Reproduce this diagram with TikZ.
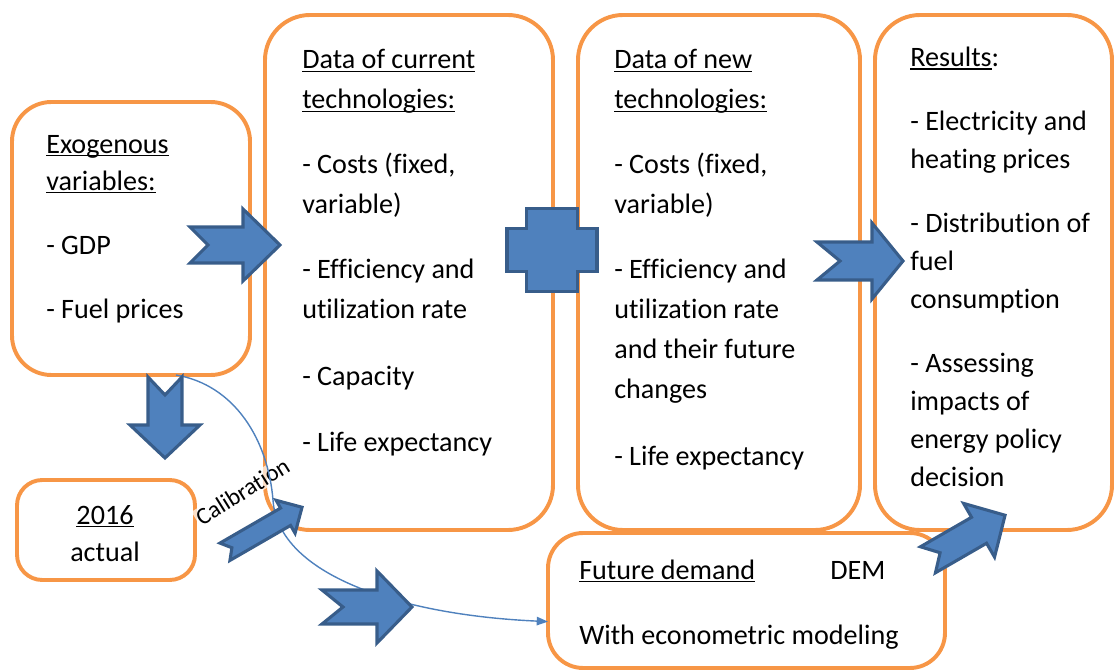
\documentclass[tikz,border=0pt]{standalone}
\usepackage{fontspec}
\setmainfont{Carlito}[Ligatures=NoCommon]
\usetikzlibrary{arrows.meta}

% underline at a fixed depth, as a word processor does
\newcommand{\ulx}[1]{\setbox0=\hbox{#1}\rlap{\rule[-2.4pt]{\wd0}{1.1pt}}\box0}

% notched block arrow: centre x, centre y, angle, length, half width, half shaft, head, notch
\newcommand{\notchedarrow}[8]{%
  \filldraw[blockarrow, shift={(#1,#2)}, rotate=#3]
    (-#4/2,-#6) -- (#4/2-#7,-#6) -- (#4/2-#7,-#5) -- (#4/2,0) -- (#4/2-#7,#5)
    -- (#4/2-#7,#6) -- (-#4/2,#6) -- (-#4/2+#8,0) -- cycle;}

\tikzset{
  box/.style={draw=boxorange, line width=2.8pt, rounded corners=30pt, inner sep=0pt, outer sep=0pt},
  boxtext/.style={anchor=base west, align=left, inner sep=0pt},
  blockarrow/.style={fill=arrowblue, draw=arrowedge, line width=2.2pt, line join=miter},
}

\begin{document}
\begin{tikzpicture}[x=0.025cm, y=-0.025cm]
            % Define the colors
            \definecolor{boxorange}{RGB}{247, 150, 70}
            \definecolor{arrowblue}{RGB}{79, 129, 189}
            \definecolor{arrowedge}{RGB}{56, 93, 138}

            \useasboundingbox (0,0) rectangle (1114,670);

            % Draw the boxes
            \node[box, rounded corners=28pt, minimum width=238*0.025cm, minimum height=273*0.025cm] (exo) at (131,238.5) {};
            \node[box, rounded corners=32pt, minimum width=288*0.025cm, minimum height=515*0.025cm] (cur) at (409,272.5) {};
            \node[box, rounded corners=32pt, minimum width=282*0.025cm, minimum height=515*0.025cm] (new) at (719,272.5) {};
            \node[box, rounded corners=32pt, minimum width=237*0.025cm, minimum height=515*0.025cm] (res) at (993.5,272.5) {};
            \node[box, rounded corners=18pt, minimum width=178*0.025cm, minimum height=100*0.025cm] (act) at (106,530) {};
            \node[box, rounded corners=25pt, minimum width=397*0.025cm, minimum height=135*0.025cm] (dem) at (746.5,600.5) {};

            % Write the texts of the boxes (placed at the baseline of their last line)
            \node[boxtext, font=\fontsize{20}{26.3}\selectfont] (exotext) at (46,318)
              {\ulx{Exogenous}\\ \ulx{variables:}\\[19.2pt] - GDP\\[19.2pt] - Fuel prices};
            \node[boxtext, font=\fontsize{20}{28.45}\selectfont] (curtext) at (302,451)
              {\ulx{Data of current}\\ \ulx{technologies:}\\[17.8pt] - Costs (fixed,\\ variable)\\[17.8pt]
               - Efficiency and\\ utilization rate\\[19.2pt] - Capacity\\[17.8pt] - Life expectancy};
            \node[boxtext, font=\fontsize{20}{28.45}\selectfont] (newtext) at (614,465)
              {\ulx{Data of new}\\ \ulx{technologies:}\\[17.8pt] - Costs (fixed,\\ variable)\\[17.8pt]
               - Efficiency and\\ utilization rate\\ and their future\\ changes\\[18.5pt] - Life expectancy};
            \node[boxtext, font=\fontsize{20}{27}\selectfont] (restext) at (910,486)
              {\ulx{Results}:\\[18.5pt] - Electricity and\\ heating prices\\[18.5pt] - Distribution of\\ fuel\\ consumption\\[18.5pt]
               - Assessing\\ impacts of\\ energy policy\\ decision};
            \node[anchor=base, align=center, inner sep=0pt, font=\fontsize{20}{26.3}\selectfont] (acttext) at (105,561)
              {\ulx{2016}\\ actual};
            \node[boxtext, font=\fontsize{20}{46.2}\selectfont] (demtext) at (579,644)
              {\ulx{Future demand}\\ With econometric modeling};
            \node[boxtext, font=\fontsize{20}{26.3}\selectfont] (demname) at (830,579) {DEM};

            % Draw the label of the calibration
            \node[rotate=32, fill=white, fill opacity=0.7, text opacity=1, inner sep=1pt,
                  font=\fontsize{17}{20}\selectfont] (calib) at (242.5,491.5) {Calibration};

            % Draw the thin connector
            \draw[draw=arrowblue, line width=1pt, -{Triangle[length=8pt, width=6pt]}]
              ([xshift=32pt]exo.south) .. controls (235,385) and (268,440) .. (273,500)
              .. controls (278,575) and (400,615) .. ([yshift=-15pt]dem.west);

            % Draw the block arrows
            \notchedarrow{235}{245}{0}{90}{36}{18}{37}{18}
            \notchedarrow{860}{261}{0}{86}{38}{19}{31}{23}
            \notchedarrow{165}{417.5}{-90}{81}{35}{17}{33}{18}
            \notchedarrow{263.5}{529.5}{30}{89}{19}{10}{19}{8}
            \notchedarrow{367}{607}{0}{90}{36}{17}{35}{21}
            \notchedarrow{966.5}{537.5}{30}{89}{31}{15}{30}{14}

            % Draw the plus sign
            \filldraw[blockarrow] (507,228.5) -- (526.5,228.5) -- (526.5,208.5) -- (577.5,208.5) -- (577.5,228.5)
              -- (597,228.5) -- (597,271.5) -- (577.5,271.5) -- (577.5,291.5) -- (526.5,291.5)
              -- (526.5,271.5) -- (507,271.5) -- cycle;

\end{tikzpicture}
\end{document}
